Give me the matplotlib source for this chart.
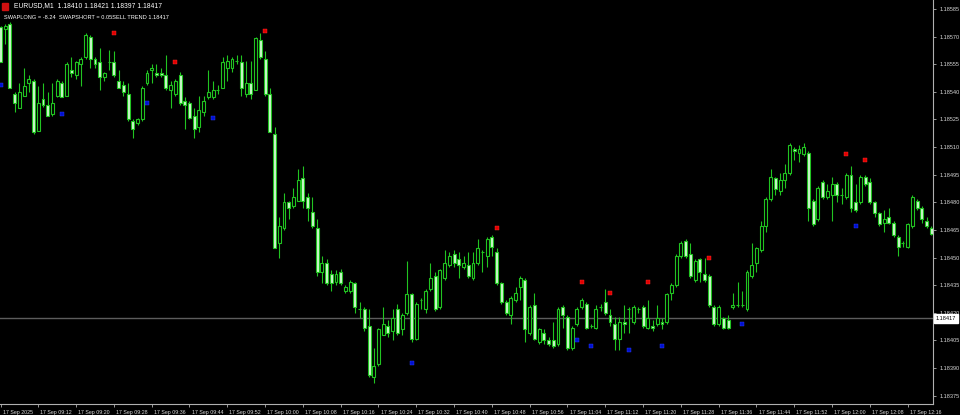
import matplotlib.pyplot as plt
from matplotlib.patches import Rectangle
from matplotlib.transforms import ScaledTranslation, blended_transform_factory

# EURUSD M1 bars, 17 Sep 2025 from 09:04
opens = [
    1.18575, 1.18574, 1.18577, 1.18539, 1.18531, 1.18538, 1.18545, 1.18546, 1.18519, 1.18536,
    1.18533, 1.18528, 1.18538, 1.18545, 1.18538, 1.18552, 1.18549, 1.18555, 1.18559, 1.18570,
    1.18558, 1.18556, 1.18548, 1.18556, 1.18556, 1.18546, 1.18544, 1.18539, 1.18524, 1.18523,
    1.18525, 1.18545, 1.18552, 1.18550, 1.18550, 1.18549, 1.18541, 1.18539, 1.18549, 1.18535,
    1.18534, 1.18527, 1.18521, 1.18529, 1.18537, 1.18537, 1.18541, 1.18542, 1.18553, 1.18553,
    1.18557, 1.18556, 1.18539, 1.18545, 1.18541, 1.18568, 1.18558, 1.18539, 1.18517, 1.18458,
    1.18466, 1.18480, 1.18478, 1.18481, 1.18493, 1.18483, 1.18475, 1.18466, 1.18442, 1.18447,
    1.18441, 1.18437, 1.18442, 1.18432, 1.18432, 1.18436, 1.18422, 1.18422, 1.18413, 1.18385,
    1.18392, 1.18408, 1.18413, 1.18410, 1.18422, 1.18411, 1.18420, 1.18430, 1.18406, 1.18427,
    1.18422, 1.18433, 1.18440, 1.18423, 1.18439, 1.18446, 1.18452, 1.18449, 1.18445, 1.18446,
    1.18439, 1.18447, 1.18453, 1.18451, 1.18461, 1.18453, 1.18436, 1.18426, 1.18419, 1.18427,
    1.18434, 1.18438, 1.18409, 1.18424, 1.18404, 1.18409, 1.18405, 1.18405, 1.18403, 1.18423,
    1.18418, 1.18401, 1.18414, 1.18423, 1.18425, 1.18413, 1.18412, 1.18423, 1.18426, 1.18419,
    1.18414, 1.18406, 1.18415, 1.18422, 1.18415, 1.18422, 1.18423, 1.18412, 1.18413, 1.18414,
    1.18415, 1.18415, 1.18431, 1.18435, 1.18451, 1.18459, 1.18452, 1.18438, 1.18449, 1.18441,
    1.18440, 1.18423, 1.18414, 1.18417, 1.18416, 1.18423, 1.18424, 1.18424, 1.18422, 1.18440,
    1.18447, 1.18454, 1.18467, 1.18482, 1.18493, 1.18486, 1.18492, 1.18496, 1.18509, 1.18507,
    1.18506, 1.18507, 1.18481, 1.18471, 1.18491, 1.18483, 1.18484, 1.18490, 1.18484, 1.18483,
    1.18495, 1.18480, 1.18480, 1.18494, 1.18491, 1.18480, 1.18474, 1.18469, 1.18472, 1.18469,
    1.18461, 1.18458, 1.18456, 1.18467, 1.18481, 1.18477, 1.18470, 1.18466,
]
highs = [
    1.18576, 1.18577, 1.18578, 1.18540, 1.18545, 1.18553, 1.18549, 1.18547, 1.18543, 1.18545,
    1.18540, 1.18545, 1.18547, 1.18546, 1.18556, 1.18559, 1.18557, 1.18559, 1.18572, 1.18571,
    1.18559, 1.18564, 1.18551, 1.18563, 1.18562, 1.18552, 1.18546, 1.18545, 1.18525, 1.18526,
    1.18543, 1.18552, 1.18555, 1.18555, 1.18553, 1.18560, 1.18546, 1.18547, 1.18551, 1.18537,
    1.18535, 1.18531, 1.18538, 1.18538, 1.18552, 1.18546, 1.18544, 1.18559, 1.18560, 1.18559,
    1.18560, 1.18560, 1.18557, 1.18557, 1.18570, 1.18572, 1.18562, 1.18542, 1.18521, 1.18472,
    1.18485, 1.18481, 1.18488, 1.18498, 1.18500, 1.18485, 1.18483, 1.18471, 1.18451, 1.18449,
    1.18443, 1.18443, 1.18444, 1.18435, 1.18438, 1.18437, 1.18426, 1.18423, 1.18422, 1.18401,
    1.18412, 1.18423, 1.18416, 1.18422, 1.18425, 1.18420, 1.18448, 1.18431, 1.18426, 1.18428,
    1.18433, 1.18447, 1.18442, 1.18444, 1.18454, 1.18453, 1.18454, 1.18453, 1.18451, 1.18453,
    1.18453, 1.18460, 1.18454, 1.18461, 1.18462, 1.18455, 1.18437, 1.18427, 1.18429, 1.18434,
    1.18440, 1.18439, 1.18424, 1.18431, 1.18412, 1.18411, 1.18407, 1.18415, 1.18423, 1.18424,
    1.18419, 1.18413, 1.18423, 1.18428, 1.18426, 1.18414, 1.18424, 1.18425, 1.18433, 1.18422,
    1.18418, 1.18418, 1.18424, 1.18423, 1.18424, 1.18423, 1.18424, 1.18427, 1.18416, 1.18424,
    1.18417, 1.18431, 1.18436, 1.18452, 1.18459, 1.18460, 1.18458, 1.18449, 1.18450, 1.18450,
    1.18441, 1.18424, 1.18424, 1.18418, 1.18419, 1.18431, 1.18437, 1.18432, 1.18443, 1.18458,
    1.18456, 1.18470, 1.18483, 1.18498, 1.18494, 1.18496, 1.18501, 1.18512, 1.18510, 1.18511,
    1.18512, 1.18508, 1.18482, 1.18489, 1.18492, 1.18490, 1.18494, 1.18491, 1.18488, 1.18496,
    1.18500, 1.18490, 1.18495, 1.18495, 1.18493, 1.18481, 1.18475, 1.18476, 1.18477, 1.18470,
    1.18462, 1.18459, 1.18469, 1.18484, 1.18482, 1.18478, 1.18472, 1.18467,
]
lows = [
    1.18556, 1.18566, 1.18542, 1.18529, 1.18531, 1.18538, 1.18540, 1.18517, 1.18519, 1.18532,
    1.18527, 1.18527, 1.18537, 1.18537, 1.18538, 1.18548, 1.18547, 1.18543, 1.18558, 1.18553,
    1.18553, 1.18541, 1.18546, 1.18552, 1.18548, 1.18542, 1.18538, 1.18524, 1.18515, 1.18522,
    1.18524, 1.18544, 1.18545, 1.18548, 1.18548, 1.18541, 1.18531, 1.18538, 1.18533, 1.18520,
    1.18525, 1.18515, 1.18518, 1.18527, 1.18536, 1.18536, 1.18539, 1.18542, 1.18546, 1.18551,
    1.18555, 1.18538, 1.18537, 1.18536, 1.18541, 1.18558, 1.18538, 1.18518, 1.18455, 1.18450,
    1.18465, 1.18471, 1.18477, 1.18481, 1.18477, 1.18470, 1.18466, 1.18440, 1.18436, 1.18435,
    1.18432, 1.18435, 1.18435, 1.18431, 1.18431, 1.18420, 1.18417, 1.18410, 1.18385, 1.18382,
    1.18391, 1.18408, 1.18407, 1.18405, 1.18408, 1.18408, 1.18419, 1.18404, 1.18405, 1.18422,
    1.18420, 1.18432, 1.18421, 1.18422, 1.18438, 1.18445, 1.18445, 1.18439, 1.18444, 1.18439,
    1.18438, 1.18446, 1.18442, 1.18445, 1.18451, 1.18435, 1.18425, 1.18419, 1.18414, 1.18426,
    1.18427, 1.18404, 1.18408, 1.18405, 1.18403, 1.18403, 1.18402, 1.18401, 1.18402, 1.18412,
    1.18400, 1.18400, 1.18413, 1.18422, 1.18411, 1.18412, 1.18411, 1.18421, 1.18419, 1.18413,
    1.18400, 1.18400, 1.18409, 1.18409, 1.18414, 1.18420, 1.18412, 1.18411, 1.18410, 1.18413,
    1.18411, 1.18414, 1.18427, 1.18434, 1.18450, 1.18450, 1.18439, 1.18437, 1.18437, 1.18437,
    1.18423, 1.18413, 1.18413, 1.18411, 1.18411, 1.18422, 1.18423, 1.18423, 1.18421, 1.18439,
    1.18442, 1.18453, 1.18464, 1.18481, 1.18484, 1.18484, 1.18488, 1.18495, 1.18503, 1.18502,
    1.18505, 1.18470, 1.18467, 1.18470, 1.18482, 1.18482, 1.18470, 1.18480, 1.18479, 1.18482,
    1.18475, 1.18475, 1.18479, 1.18489, 1.18479, 1.18472, 1.18467, 1.18464, 1.18468, 1.18461,
    1.18451, 1.18456, 1.18455, 1.18466, 1.18476, 1.18469, 1.18466, 1.18462,
]
closes = [
    1.18556, 1.18576, 1.18542, 1.18534, 1.18540, 1.18543, 1.18547, 1.18518, 1.18534, 1.18533,
    1.18527, 1.18534, 1.18546, 1.18537, 1.18555, 1.18550, 1.18556, 1.18558, 1.18571, 1.18558,
    1.18555, 1.18548, 1.18550, 1.18556, 1.18549, 1.18542, 1.18540, 1.18525, 1.18520, 1.18525,
    1.18542, 1.18550, 1.18553, 1.18549, 1.18549, 1.18542, 1.18544, 1.18546, 1.18534, 1.18533,
    1.18526, 1.18520, 1.18530, 1.18535, 1.18540, 1.18541, 1.18541, 1.18556, 1.18557, 1.18558,
    1.18557, 1.18542, 1.18545, 1.18539, 1.18569, 1.18559, 1.18539, 1.18518, 1.18455, 1.18467,
    1.18480, 1.18477, 1.18483, 1.18492, 1.18481, 1.18477, 1.18467, 1.18442, 1.18447, 1.18436,
    1.18436, 1.18441, 1.18436, 1.18434, 1.18437, 1.18423, 1.18422, 1.18412, 1.18386, 1.18391,
    1.18411, 1.18414, 1.18409, 1.18417, 1.18409, 1.18419, 1.18430, 1.18406, 1.18425, 1.18427,
    1.18432, 1.18439, 1.18422, 1.18443, 1.18447, 1.18451, 1.18447, 1.18446, 1.18447, 1.18440,
    1.18447, 1.18455, 1.18453, 1.18460, 1.18456, 1.18436, 1.18426, 1.18420, 1.18428, 1.18431,
    1.18439, 1.18411, 1.18423, 1.18406, 1.18411, 1.18405, 1.18403, 1.18402, 1.18422, 1.18419,
    1.18401, 1.18412, 1.18422, 1.18427, 1.18412, 1.18413, 1.18422, 1.18423, 1.18420, 1.18415,
    1.18406, 1.18415, 1.18414, 1.18422, 1.18423, 1.18422, 1.18413, 1.18417, 1.18412, 1.18417,
    1.18414, 1.18430, 1.18435, 1.18451, 1.18458, 1.18451, 1.18440, 1.18448, 1.18442, 1.18438,
    1.18424, 1.18414, 1.18423, 1.18412, 1.18412, 1.18424, 1.18424, 1.18424, 1.18442, 1.18446,
    1.18455, 1.18467, 1.18482, 1.18494, 1.18487, 1.18492, 1.18496, 1.18511, 1.18508, 1.18509,
    1.18510, 1.18477, 1.18468, 1.18488, 1.18483, 1.18486, 1.18490, 1.18484, 1.18484, 1.18495,
    1.18477, 1.18476, 1.18494, 1.18490, 1.18480, 1.18474, 1.18468, 1.18471, 1.18469, 1.18462,
    1.18456, 1.18458, 1.18468, 1.18483, 1.18477, 1.18471, 1.18467, 1.18463,
]

time_labels = [
    "17 Sep 2025", "17 Sep 09:12", "17 Sep 09:20", "17 Sep 09:28", "17 Sep 09:36",
    "17 Sep 09:44", "17 Sep 09:52", "17 Sep 10:00", "17 Sep 10:08", "17 Sep 10:16",
    "17 Sep 10:24", "17 Sep 10:32", "17 Sep 10:40", "17 Sep 10:48", "17 Sep 10:56",
    "17 Sep 11:04", "17 Sep 11:12", "17 Sep 11:20", "17 Sep 11:28", "17 Sep 11:36",
    "17 Sep 11:44", "17 Sep 11:52", "17 Sep 12:00", "17 Sep 12:08", "17 Sep 12:16",
]
label_bars = [0, 8, 16, 24, 32, 40, 48, 56, 64, 72, 80, 88, 96, 104, 112, 120,
              128, 136, 144, 152, 160, 168, 176, 184, 192]

price_ticks = [1.18375, 1.18390, 1.18405, 1.18420, 1.18435, 1.18450, 1.18465, 1.18480,
               1.18495, 1.18510, 1.18525, 1.18540, 1.18555, 1.18570, 1.18585]

# indicator arrows
sell_bars = [24, 37, 56, 105, 123, 129, 137, 150, 179, 183]
sell_prices = [1.18572, 1.18556, 1.18573, 1.18466, 1.18437, 1.18431, 1.18437, 1.18450,
               1.18506, 1.18503]
buy_bars = [0, 13, 31, 45, 87, 122, 125, 133, 140, 157, 181]
buy_prices = [1.18544, 1.18528, 1.18534, 1.18526, 1.18393, 1.18405, 1.18402, 1.18400,
              1.18402, 1.18414, 1.18467]

last_price = 1.18417
header = "EURUSD,M1  1.18410 1.18421 1.18397 1.18417"
info = "SWAPLONG = -8.24  SWAPSHORT = 0.05SELL TREND 1.18417"

LINE = "#21c421"
BEAR = "#cdf7cd"
AXIS = "#b0b0b0"
TXT = "#d8d8d8"

plt.rcParams["font.family"] = ["Liberation Sans", "DejaVu Sans"]

fig = plt.figure(figsize=(9.6, 4.15), dpi=100, facecolor="black")
ax = fig.add_axes([0, 11 / 415, 933 / 960, 404 / 415], facecolor="black")

bars = list(range(len(opens)))
ax.axhline(last_price, color="#5c5c5c", lw=1.0, zorder=0.5)
ax.vlines(bars, lows, highs, color=LINE, lw=0.8, zorder=2)

bottoms = [min(o, c) for o, c in zip(opens, closes)]
heights = [abs(c - o) for o, c in zip(opens, closes)]
faces = ["black" if c >= o else BEAR for o, c in zip(opens, closes)]
ax.bar(bars, heights, bottom=bottoms, width=0.62, color=faces,
       edgecolor=LINE, linewidth=0.8, zorder=3)

ax.scatter(sell_bars, sell_prices, marker="s", s=10, color="#e00000",
           edgecolors="#ff3030", linewidths=0.3, zorder=4)
ax.scatter(buy_bars, buy_prices, marker="s", s=10, color="#0010d0",
           edgecolors="#3040ff", linewidths=0.3, zorder=4)

ax.set_xlim(-0.106, 197.36)
ax.set_ylim(1.1837049, 1.1858989)

for side in ("top", "left"):
    ax.spines[side].set_visible(False)
for side in ("right", "bottom"):
    ax.spines[side].set_color(AXIS)
    ax.spines[side].set_linewidth(0.8)

ax.yaxis.tick_right()
ax.set_yticks(price_ticks)
ax.set_yticklabels([f"{p:.5f}" for p in price_ticks])
ax.tick_params(axis="y", colors=AXIS, labelcolor=TXT, labelsize=4.0,
               length=2.5, width=0.6, pad=2)

ax.set_xticks(label_bars)
ax.set_xticklabels(time_labels)
ax.tick_params(axis="x", colors=AXIS, labelcolor=TXT, labelsize=3.8,
               length=2.5, width=0.6, pad=1.5)
shift = ScaledTranslation(1.5 / 72, 0, fig.dpi_scale_trans)
for lab in ax.get_xticklabels():
    lab.set_horizontalalignment("left")
    lab.set_transform(lab.get_transform() + shift)

# current price tag on the price scale
tag = blended_transform_factory(ax.transAxes, ax.transData)
ax.text(1.003, last_price, f"{last_price:.5f}", transform=tag, ha="left",
        va="center", fontsize=4.0, color="black", clip_on=False, zorder=6,
        bbox=dict(boxstyle="square,pad=0.3", fc="white", ec="white"))

# chart header
fig.add_artist(Rectangle((2 / 960, 1 - 10 / 415), 6 / 960, 7 / 415,
                         transform=fig.transFigure, color="#d01010"))
fig.text(14 / 960, 1 - 5.5 / 415, header, color="white", fontsize=4.9, va="center")
fig.text(4 / 960, 1 - 17.5 / 415, info, color="white", fontsize=4.1, va="center")

fig.savefig("out.png", dpi=100, facecolor="black")
